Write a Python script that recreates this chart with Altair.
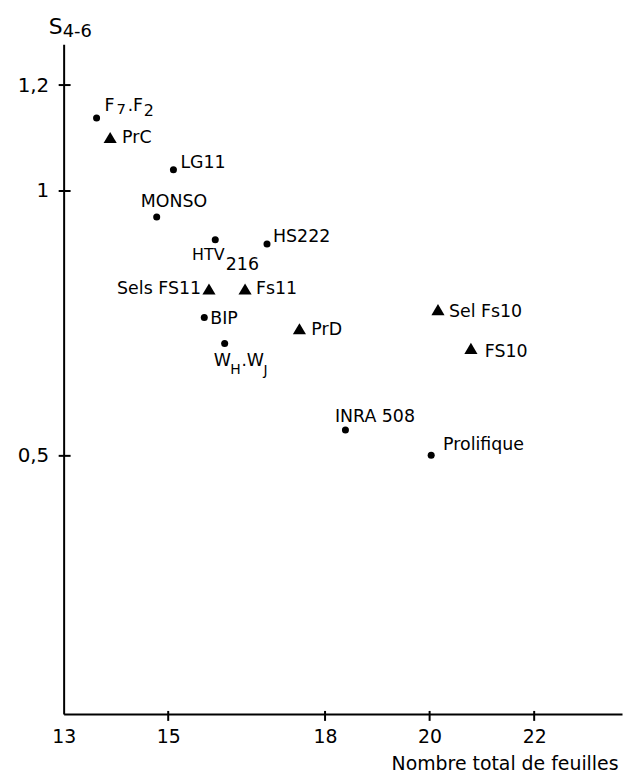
import altair as alt
import pandas as pd

# ---- data ----
noms = ["F7.F2", "PrC", "LG11", "MONSO", "HTV216", "HS222", "Sels FS11", "Fs11",
        "BIP", "WH.WJ", "PrD", "Sel Fs10", "FS10", "INRA 508", "Prolifique"]
nb_feuilles = [13.63, 13.89, 15.10, 14.78, 15.90, 16.89, 15.78, 16.47,
               15.69, 16.08, 17.51, 20.16, 20.79, 18.39, 20.03]
s46 = [1.138, 1.101, 1.040, 0.951, 0.908, 0.900, 0.815, 0.815,
       0.761, 0.712, 0.740, 0.776, 0.703, 0.549, 0.501]
forme = ["rond", "triangle", "rond", "rond", "rond", "rond", "triangle", "triangle",
         "rond", "rond", "triangle", "triangle", "triangle", "rond", "rond"]
x_ticks = [13, 15, 18, 20, 22]
y_ticks = [0.5, 1, 1.2]

df = pd.DataFrame({"nom": noms, "x": nb_feuilles, "y": s46, "forme": forme})

FONT = "DejaVu Sans"
TRI = "M-1,0.85L0,-0.85L1,0.85Z"

xscale = alt.Scale(domain=[13, 23.68], nice=False, zero=False)
yscale = alt.Scale(domain=[0.0128, 1.277], nice=False, zero=False)

xaxis = alt.Axis(values=x_ticks, ticks=False, grid=False, domainColor="black",
                 domainWidth=2, labelFont=FONT, labelFontSize=19, labelColor="black",
                 labelPadding=14, labelFlush=False, titleFont=FONT, titleFontSize=19,
                 titleFontWeight="normal", titleColor="black", titleAlign="right",
                 titleX=558, titleY=56, titleBaseline="alphabetic")
yaxis = alt.Axis(values=y_ticks, ticks=False, grid=False, domainColor="black",
                 domainWidth=2, labelFont=FONT, labelFontSize=20, labelColor="black",
                 labelPadding=15, labelExpr="replace(toString(datum.value), '.', ',')")

X = alt.X("x:Q", scale=xscale, axis=xaxis, title="Nombre total de feuilles")
Y = alt.Y("y:Q", scale=yscale, axis=yaxis, title=None)

base = alt.Chart(df)
layers = []

layers.append(base.transform_filter(alt.datum.forme == "rond")
              .mark_point(filled=True, shape="circle", size=50, color="black", opacity=1)
              .encode(x=X, y=Y))
layers.append(base.transform_filter(alt.datum.forme == "triangle")
              .mark_point(filled=True, shape=TRI, size=175, color="black", opacity=1)
              .encode(x=X, y=Y))

# simple labels: (name, dx, dy, align)
simple = [("PrC", 12, 6, "left"), ("LG11", 7, -1.4, "left"), ("MONSO", -16, -10, "left"),
          ("HS222", 6, -1.6, "left"), ("Sels FS11", -8, 5, "right"), ("Fs11", 11, 5, "left"),
          ("BIP", 6, 6, "left"), ("PrD", 12, 6.7, "left"), ("Sel Fs10", 11, 7.4, "left"),
          ("FS10", 14, 8.4, "left"), ("INRA 508", -10.6, -8.3, "left"),
          ("Prolifique", 12, -5.3, "left")]
for nom, dx, dy, al in simple:
    layers.append(base.transform_filter(alt.datum.nom == nom)
                  .mark_text(align=al, baseline="alphabetic", dx=dx, dy=dy, font=FONT,
                             fontSize=17.5, color="black")
                  .encode(x=X, y=Y, text="nom:N"))

# labels with subscripts: (name, piece, dx, dy, size)
pieces = [("F7.F2", "F", 8, -6.7, 17.5), ("F7.F2", "7", 20, -4, 15), ("F7.F2", ".", 31.5, -7, 17),
          ("F7.F2", "F", 36.7, -6.7, 17.5), ("F7.F2", "2", 47.4, -2.3, 16),
          ("HTV216", "HTV", -23.4, 20, 16), ("HTV216", "216", 10.6, 30, 17.5),
          ("WH.WJ", "W", -11, 22.3, 17.5), ("WH.WJ", "H", 5.7, 30.7, 14),
          ("WH.WJ", ".", 17, 23, 17), ("WH.WJ", "W", 22.3, 22.3, 17.5),
          ("WH.WJ", "J", 39, 32, 14)]
for nom, txt, dx, dy, fs in pieces:
    layers.append(base.transform_filter(alt.datum.nom == nom)
                  .mark_text(text=txt, align="left", baseline="alphabetic", dx=dx, dy=dy,
                             font=FONT, fontSize=fs, color="black")
                  .encode(x=X, y=Y))

# crossing tick marks
layers.append(alt.Chart(pd.DataFrame({"x": x_ticks[1:]}))
              .mark_rule(color="black", strokeWidth=2)
              .encode(x=X, y=alt.value(671), y2=alt.value(681)))
layers.append(alt.Chart(pd.DataFrame({"y": y_ticks}))
              .mark_rule(color="black", strokeWidth=2)
              .encode(y=Y, x=alt.value(-5), x2=alt.value(7)))

# y-axis title S4-6
one = alt.Chart(pd.DataFrame({"a": [0]}))
layers.append(one.mark_text(text="S", align="left", baseline="alphabetic", font=FONT,
                            fontSize=22, color="black")
              .encode(x=alt.value(-15), y=alt.value(-10)))
layers.append(one.mark_text(text="4-6", align="left", baseline="alphabetic", font=FONT,
                            fontSize=18, color="black")
              .encode(x=alt.value(-1), y=alt.value(-7)))

chart = alt.layer(*layers).properties(
    width=562, height=674,
    padding={"left": 56, "top": 34, "right": 2, "bottom": 63},
    autosize=alt.AutoSizeParams(type="none"),
).configure_view(stroke=None)

chart.save("out.html", embed_options={"renderer": "svg", "actions": False})
